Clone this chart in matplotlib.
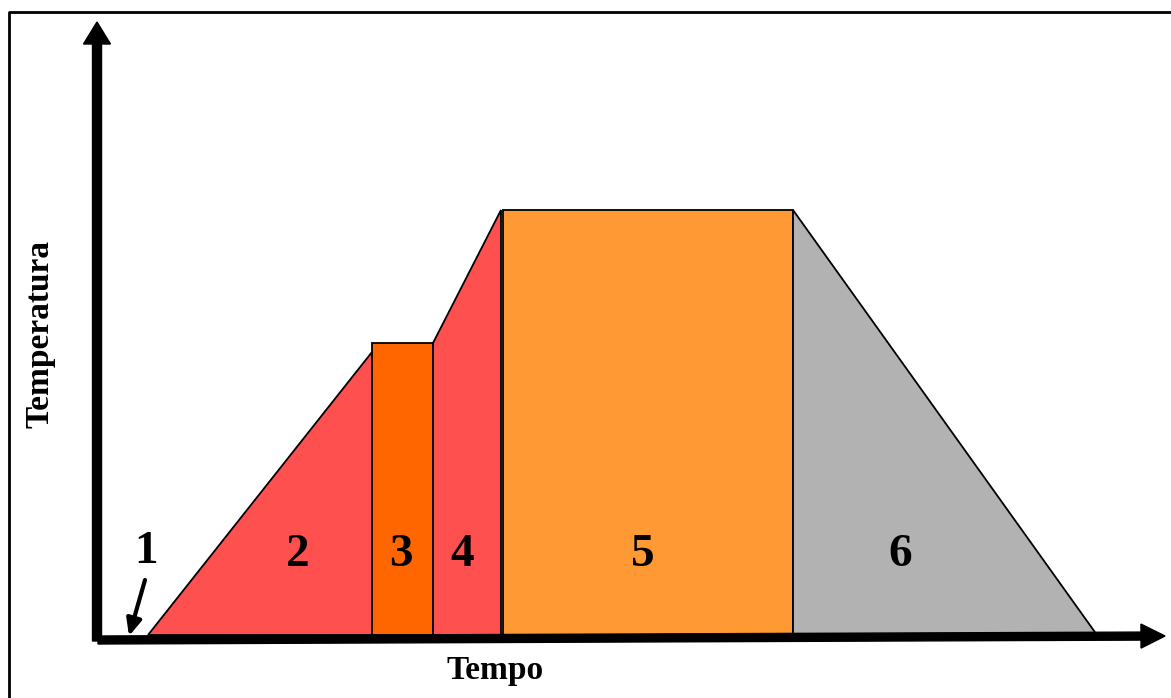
import matplotlib.pyplot as plt
from matplotlib.patches import Polygon, FancyArrow

plt.rcParams['font.family'] = ['Liberation Serif', 'DejaVu Serif']

# Stage outlines: (time, temperature) corners, arbitrary units
stage_names = ["2", "3", "4", "5", "6"]
stage_times = [
    [51, 275, 275],
    [275, 275, 336, 336],
    [336, 336, 404, 404],
    [406, 406, 696, 696],
    [696, 1000, 696],
]
stage_temps = [
    [0, 0, 283],
    [0, 292, 292, 0],
    [0, 292, 425, 0],
    [0, 425, 425, 0],
    [425, 0, 0],
]
stage_colors = ["#FF5050", "#FF6600", "#FF5050", "#FF9933", "#B2B2B2"]
label_times = [201, 304, 365, 546, 803]
label_temp = 80

# Stage 1 marker: label and pointer to the start of heating
stage1_label = (49, 83)
stage1_arrow = [(48, 55), (32, -1)]

fig = plt.figure(figsize=(11.71, 6.98), dpi=100)
ax = fig.add_axes([0, 0, 1, 1])
ax.set_xlim(-97, 1074)
ax.set_ylim(-63, 635)
ax.axis('off')

for xs, ys, c in zip(stage_times, stage_temps, stage_colors):
    ax.add_patch(Polygon(list(zip(xs, ys)), closed=True, facecolor=c,
                         edgecolor='black', linewidth=1.3, zorder=2))

for name, t in zip(stage_names, label_times):
    ax.text(t, label_temp, name, ha='center', va='center', fontsize=34,
            fontweight='bold', zorder=4)

ax.text(*stage1_label, "1", ha='center', va='center', fontsize=34,
        fontweight='bold')
ax.annotate("", xy=stage1_arrow[1], xytext=stage1_arrow[0],
            arrowprops=dict(arrowstyle='-|>,head_length=1.0,head_width=0.45',
                            color='black', lw=3, shrinkA=0, shrinkB=0))

# Thick axes drawn as arrows
ax.add_patch(FancyArrow(0, -6, 0, 619, width=9, head_width=27, head_length=22,
                        length_includes_head=True, color='black', zorder=5))
ax.add_patch(FancyArrow(1, -5, 1067, 4, width=8, head_width=24, head_length=24,
                        length_includes_head=True, color='black', zorder=5))

ax.text(398, -35, "Tempo", ha='center', va='center', fontsize=24,
        fontweight='bold')
ax.text(-57, 301, "Temperatura", ha='center', va='center', fontsize=24,
        fontweight='bold', rotation=90)

# Frame along the top and left edges
fig.add_artist(plt.Line2D([9 / 1171, 9 / 1171, 1], [0, 1 - 12 / 698, 1 - 12 / 698],
                          color='black', lw=2, transform=fig.transFigure))

fig.savefig("out.png", dpi=100)
